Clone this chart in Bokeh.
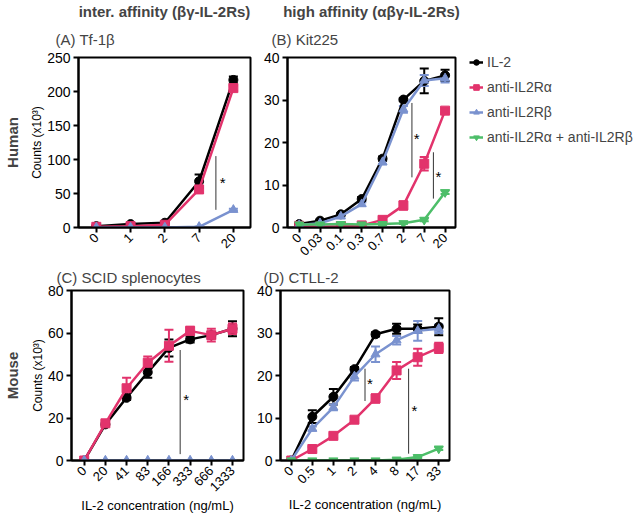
import numpy as np
from bokeh.plotting import figure
from bokeh.models import (ColumnDataSource, Whisker, TeeHead, FixedTicker, LinearAxis,
                          Title, Legend, LegendItem, Range1d)
from bokeh.layouts import row, column
from bokeh.embed import file_html
from bokeh.resources import INLINE
from bokeh.core.properties import value

FONT = "Liberation Sans"

# ---------------- data ----------------
A_cats = ["0", "1", "2", "7", "20"]
A_il2 = [2, 5, 7, 68, 217]
A_il2_err = [1, 1.5, 1.5, 10, 5]
A_ra = [1, 2, 4, 56, 205]
A_ra_err = [0.5, 1, 1, 5, 4]
A_rb = [0, 0, 0, 1, 26]
A_rb_err = [0, 0, 0, 0.5, 1.5]
A_sig = [(3.49, 26, 105, 3.69, 66)]

B_cats = ["0", "0.03", "0.1", "0.3", "0.7", "2", "7", "20"]
B_il2 = [0.8, 1.6, 3.1, 6.7, 16.2, 30.1, 34.5, 35.8]
B_il2_err = [0.2, 0.2, 0.3, 0.5, 0.5, 0.4, 2.9, 1.3]
B_ra = [0.4, 0.2, 0.3, 0.5, 1.8, 5.2, 15.0, 27.5]
B_ra_err = [0.1, 0.1, 0.1, 0.2, 0.3, 1.0, 1.6, 0.5]
B_rb = [0.6, 1.0, 2.6, 5.5, 15.4, 27.8, 34.6, 35.1]
B_rb_err = [0.2, 0.2, 0.3, 0.4, 0.6, 0.8, 1.3, 1.0]
B_rab = [0.7, 0.7, 0.8, 0.7, 0.8, 1.0, 1.8, 8.3]
B_rab_err = [0.2, 0.2, 0.2, 0.2, 0.2, 0.2, 0.3, 0.4]
B_sig = [(5.41, 11.8, 29.3, 5.64, 21), (6.44, 6.8, 17.7, 6.68, 12)]

C_cats = ["0", "20", "41", "83", "166", "333", "666", "1333"]
C_il2 = [0, 17, 29.5, 41.5, 53, 57, 59, 62]
C_il2_err = [0.3, 0.8, 1, 2.5, 4, 1.5, 1.5, 3.5]
C_ra = [0, 17.5, 34, 46, 54, 61, 59, 62]
C_ra_err = [0.3, 1, 5, 3, 7.5, 2, 3, 2.5]
C_rb = [0, 0, 0, 0, 0, 0, 0, 0]
C_rb_err = [0, 0, 0, 0, 0, 0, 0, 0]
C_sig = [(4.53, 3, 52, 4.81, 28.7)]

D_cats = ["0", "0.5", "1", "2", "4", "8", "17", "33"]
D_il2 = [0, 10.3, 15, 21.5, 29.7, 31, 31, 31.5]
D_il2_err = [0.2, 1.5, 1.8, 0.5, 0.5, 1.2, 1.0, 2.0]
D_ra = [0, 2.7, 5.8, 9.6, 14.6, 21.2, 24.3, 26.5]
D_ra_err = [0.2, 0.5, 0.5, 0.6, 1.0, 2.0, 2.0, 1.2]
D_rb = [0, 7.5, 12.5, 19.8, 25, 28.3, 30.5, 31]
D_rb_err = [0.2, 0.5, 0.7, 1.0, 1.8, 1.0, 2.3, 1.0]
D_rab = [0, 0, 0, 0, 0, 0.2, 0.8, 2.8]
D_rab_err = [0, 0, 0, 0, 0, 0.1, 0.2, 0.3]
D_sig = [(3.5, 14, 21.6, 3.73, 18.2), (5.57, 1.6, 21.6, 5.84, 11.8)]

SERIES_NAMES = ["IL-2", "anti-IL2R\u03b1", "anti-IL2R\u03b2", "anti-IL2R\u03b1 + anti-IL2R\u03b2"]
COLORS = ["#000000", "#E2336C", "#7A92CF", "#4DBE69"]
MARKERS = ["circle", "square", "triangle", "inverted_triangle"]


def make_panel(cats, series, ymax, ystep, xr, title, top_title=None, row_label=None,
               xlabel=None, xlabel_standoff=2, sig=(), tb=0, bb=30, lb=25, rb=10, fw=170,
               title_offset=-20, title_standoff=10, xlab_standoff=2):
    n = len(cats)
    p = figure(frame_width=fw, frame_height=170, output_backend="svg", toolbar_location=None,
               x_range=Range1d(*xr), y_range=Range1d(0, ymax),
               min_border_left=lb, min_border_right=rb, min_border_top=tb, min_border_bottom=bb,
               background_fill_color="white", border_fill_color="white")
    p.xgrid.visible = False
    p.ygrid.visible = False
    p.outline_line_color = "black"
    p.outline_line_width = 2
    p.outline_line_alpha = 1

    panel_title_kw = dict(text=title, align="left", offset=title_offset, text_font=FONT,
                          text_font_size="15px", text_font_style="normal",
                          standoff=title_standoff)
    if top_title:
        p.title.text = top_title
        p.title.text_font = FONT
        p.title.text_font_size = "15px"
        p.title.text_font_style = "bold"
        p.title.align = "center"
        p.title.standoff = 0
        p.add_layout(Title(**panel_title_kw), "above")
    else:
        p.title.text = title
        p.title.text_font = FONT
        p.title.text_font_size = "15px"
        p.title.text_font_style = "normal"
        p.title.align = "left"
        p.title.offset = title_offset
        p.title.standoff = title_standoff

    for ax in (p.xaxis, p.yaxis):
        ax.axis_line_width = 2
        ax.axis_line_color = "black"
        ax.major_tick_line_width = 2
        ax.major_tick_line_color = "black"
        ax.major_tick_out = 5
        ax.major_tick_in = 0
        ax.minor_tick_line_color = None
        ax.major_label_text_font = FONT
        ax.major_label_text_color = "black"
        ax.axis_label_text_font = FONT
        ax.axis_label_text_font_style = "normal"
        ax.axis_label_text_color = "black"

    p.xaxis.ticker = FixedTicker(ticks=list(range(n)))
    p.xaxis.major_label_overrides = {i: c for i, c in enumerate(cats)}
    p.xaxis.major_label_orientation = np.pi / 4
    p.xaxis.major_label_text_font_size = "13px"
    p.xaxis.major_label_standoff = xlab_standoff
    p.yaxis.ticker = FixedTicker(ticks=list(range(0, ymax + 1, ystep)))
    p.yaxis.major_label_text_font_size = "14px"
    p.yaxis.major_label_standoff = 3

    if row_label:
        p.yaxis.axis_label = "Counts (x10\u00b3)"
        p.yaxis.axis_label_text_font_size = "12px"
        p.yaxis.axis_label_standoff = 0
        extra = LinearAxis(ticker=FixedTicker(ticks=[]), axis_label=row_label,
                           axis_line_color=None, major_tick_line_color=None,
                           minor_tick_line_color=None, major_label_text_font_size="0px",
                           axis_label_text_font=FONT, axis_label_text_font_style="bold",
                           axis_label_text_font_size="15px", axis_label_standoff=7)
        p.add_layout(extra, "left")
    if xlabel:
        p.xaxis.axis_label = xlabel
        p.xaxis.axis_label_text_font_size = "13px"
        p.xaxis.axis_label_standoff = xlabel_standoff

    renderers = []
    for k, (y, err) in enumerate(series):
        x = list(range(n))
        src = ColumnDataSource(dict(x=x, y=y,
                                    upper=[a + b for a, b in zip(y, err)],
                                    lower=[a - b for a, b in zip(y, err)]))
        c = COLORS[k]
        ln = p.line("x", "y", source=src, line_color=c, line_width=2.5)
        w = Whisker(source=src, base="x", upper="upper", lower="lower", dimension="height",
                    line_color=c, line_width=2,
                    upper_head=TeeHead(size=9, line_color=c, line_width=2),
                    lower_head=TeeHead(size=9, line_color=c, line_width=2))
        p.add_layout(w)
        sc = p.scatter("x", "y", source=src, marker=MARKERS[k], size=9,
                       fill_color=c, line_color=c)
        renderers.append((ln, sc))

    for (sx, y0, y1, tx, ty) in sig:
        p.segment(x0=[sx], y0=[y0], x1=[sx], y1=[y1], line_color="#333333", line_width=1)
        p.text(x=[tx], y=[ty], text=["*"], text_font=value(FONT), text_font_size="15px",
               text_align="center", text_baseline="middle", text_color="black")
    return p, renderers


pA, _ = make_panel(A_cats, [(A_il2, A_il2_err), (A_ra, A_ra_err), (A_rb, A_rb_err)],
                   250, 50, (-0.52, 4.5), "(A) Tf-1\u03b2",
                   top_title="inter. affinity (\u03b2\u03b3-IL-2Rs)", row_label="Human",
                   sig=A_sig, tb=0, bb=26, lb=70, rb=10, fw=172, title_offset=-23,
                   title_standoff=19, xlab_standoff=3)
pB, rendB = make_panel(B_cats, [(B_il2, B_il2_err), (B_ra, B_ra_err), (B_rb, B_rb_err),
                                (B_rab, B_rab_err)],
                       40, 10, (-0.56, 7.5), "(B) Kit225",
                       top_title="high affinity (\u03b1\u03b2\u03b3-IL-2Rs)",
                       sig=B_sig, tb=0, bb=26, lb=25, rb=10, fw=168, title_offset=-16,
                       title_standoff=19, xlab_standoff=3)
pC, _ = make_panel(C_cats, [(C_il2, C_il2_err), (C_ra, C_ra_err), (C_rb, C_rb_err)],
                   80, 20, (-0.6, 7.52), "(C) SCID splenocytes", row_label="Mouse",
                   xlabel="IL-2 concentration (ng/mL)", xlabel_standoff=0, sig=C_sig,
                   tb=0, bb=40, lb=70, rb=10, fw=172, title_offset=-15, title_standoff=9,
                   xlab_standoff=3)
pD, _ = make_panel(D_cats, [(D_il2, D_il2_err), (D_ra, D_ra_err), (D_rb, D_rb_err),
                            (D_rab, D_rab_err)],
                   40, 10, (-0.51, 7.51), "(D) CTLL-2",
                   xlabel="IL-2 concentration (ng/mL)", xlabel_standoff=6, sig=D_sig,
                   tb=0, bb=40, lb=25, rb=10, fw=169, title_offset=-17, title_standoff=9,
                   xlab_standoff=3)

items = [LegendItem(label=SERIES_NAMES[k], renderers=list(rendB[k])) for k in range(4)]
legend = Legend(items=items, location=(14, 81), border_line_color=None,
                background_fill_alpha=0, label_text_font=FONT, label_text_font_size="14px",
                glyph_width=14, glyph_height=14, label_standoff=4, spacing=6, label_height=19,
                padding=0, margin=0)
pB.add_layout(legend, "right")

layout = column(row(pA, pB), row(pC, pD),
                styles={"outline": "1px solid #bdbdbd", "outline-offset": "6px"})

open("out.html", "w").write(file_html(layout, INLINE))
